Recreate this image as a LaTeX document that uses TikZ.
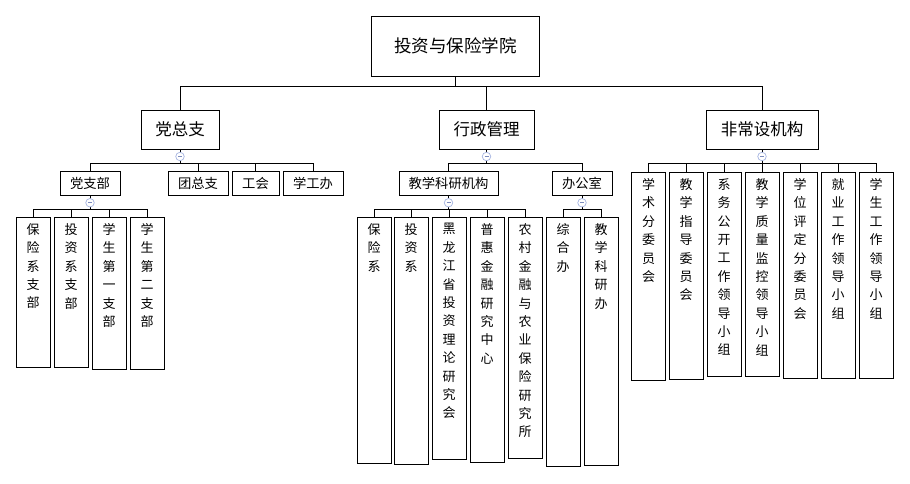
\documentclass[tikz,border=0pt]{standalone}
\usepackage{fontspec}
\newfontfamily\cjk{Noto Sans CJK SC}
\definecolor{foldline}{RGB}{165,180,225}
\definecolor{foldmark}{RGB}{125,140,190}
\newcommand{\colstack}[2]{\parbox[c][#1pt][t]{20pt}{\centering\fontsize{13}{18.4}\selectfont\vspace*{6pt}#2}}

\begin{document}
\begin{tikzpicture}[x=1pt, y=-1pt, line width=1pt,
    box/.style={draw=black, line width=1pt, inner sep=0pt, font=\cjk},
    college/.style={box, minimum width=168, minimum height=60, font=\cjk\fontsize{17.5}{20}\selectfont},
    head/.style={box, minimum height=39, font=\cjk\fontsize{16.5}{20}\selectfont},
    unit/.style={box, minimum height=23.5, font=\cjk\fontsize{13.3}{16}\selectfont},
    leaf/.style={box, anchor=north, minimum width=34},
    fold/.style={circle, draw=foldline, fill=white, line width=0.7pt, minimum size=8.5, inner sep=0pt,
        path picture={\draw[foldmark, line width=0.8pt] ([xshift=-2pt]path picture bounding box.center) -- ([xshift=2pt]path picture bounding box.center);}}]

\useasboundingbox (0,0) rectangle (910,483);

% top
\node[college] (root) at (455.5,46) {投资与保险学院};

\node[head, minimum width=78] (dzz) at (180,129.5) {党总支};
\node[head, minimum width=95] (xz) at (486.5,129.5) {行政管理};
\node[head, minimum width=112] (fc) at (762,129.5) {非常设机构};

% second row
\node[unit, minimum width=60] (dzb) at (90,183.5) {党支部};
\node[unit, minimum width=60] (tzz) at (198,183.5) {团总支};
\node[unit, minimum width=47] (gh) at (255.5,183.5) {工会};
\node[unit, minimum width=60] (xgb) at (313,183.5) {学工办};
\node[unit, minimum width=99] (jk) at (448.5,183.5) {教学科研机构};
\node[unit, minimum width=60] (bgs) at (582,183.5) {办公室};

% leaves
\node[leaf] (b1) at (33,217) {\colstack{150}{保\\险\\系\\支\\部}};
\node[leaf] (b2) at (71,217) {\colstack{150}{投\\资\\系\\支\\部}};
\node[leaf] (b3) at (109,217) {\colstack{152}{学\\生\\第\\一\\支\\部}};
\node[leaf] (b4) at (147,217) {\colstack{152}{学\\生\\第\\二\\支\\部}};

\node[leaf] (j1) at (374,217) {\colstack{246}{保\\险\\系}};
\node[leaf] (j2) at (411,217) {\colstack{247}{投\\资\\系}};
\node[leaf] (j3) at (449,217) {\colstack{242}{黑\\龙\\江\\省\\投\\资\\理\\论\\研\\究\\会}};
\node[leaf] (j4) at (487,217) {\colstack{245}{普\\惠\\金\\融\\研\\究\\中\\心}};
\node[leaf] (j5) at (525,217) {\colstack{241}{农\\村\\金\\融\\与\\农\\业\\保\\险\\研\\究\\所}};

\node[leaf] (o1) at (563,217) {\colstack{249}{综\\合\\办}};
\node[leaf] (o2) at (601,217) {\colstack{248}{教\\学\\科\\研\\办}};

\node[leaf] (f1) at (648.5,172) {\colstack{208}{学\\术\\分\\委\\员\\会}};
\node[leaf] (f2) at (686,172) {\colstack{207}{教\\学\\指\\导\\委\\员\\会}};
\node[leaf] (f3) at (724,172) {\colstack{204}{系\\务\\公\\开\\工\\作\\领\\导\\小\\组}};
\node[leaf] (f4) at (762,172) {\colstack{204}{教\\学\\质\\量\\监\\控\\领\\导\\小\\组}};
\node[leaf] (f5) at (800,172) {\colstack{206}{学\\位\\评\\定\\分\\委\\员\\会}};
\node[leaf] (f6) at (838,172) {\colstack{206}{就\\业\\工\\作\\领\\导\\小\\组}};
\node[leaf] (f7) at (876,172) {\colstack{206}{学\\生\\工\\作\\领\\导\\小\\组}};

% connectors
\foreach \k in {dzz,xz,fc}
    \draw (root.south) -- ++(0,10) -| (\k.north);
\foreach \k in {dzb,tzz,gh,xgb}
    \draw (dzz.south) -- ++(0,13.5) -| (\k.north);
\foreach \k in {jk,bgs}
    \draw (xz.south) -- ++(0,13.5) -| (\k.north);
\foreach \k in {f1,f2,f3,f4,f5,f6,f7}
    \draw (fc.south) -- ++(0,13.5) -| (\k.north);
\foreach \k in {b1,b2,b3,b4}
    \draw (dzb.south) -- ++(0,13.5) -| (\k.north);
\foreach \k in {j1,j2,j3,j4,j5}
    \draw (jk.south) -- ++(0,13.5) -| (\k.north);
\foreach \k in {o1,o2}
    \draw (bgs.south) -- ++(0,13.5) -| (\k.north);

% fold marks
\foreach \k in {dzz,xz,fc,dzb,jk,bgs}
    \node[fold] (\k-fold) at ([yshift=-7pt]\k.south) {};

\end{tikzpicture}
\end{document}
